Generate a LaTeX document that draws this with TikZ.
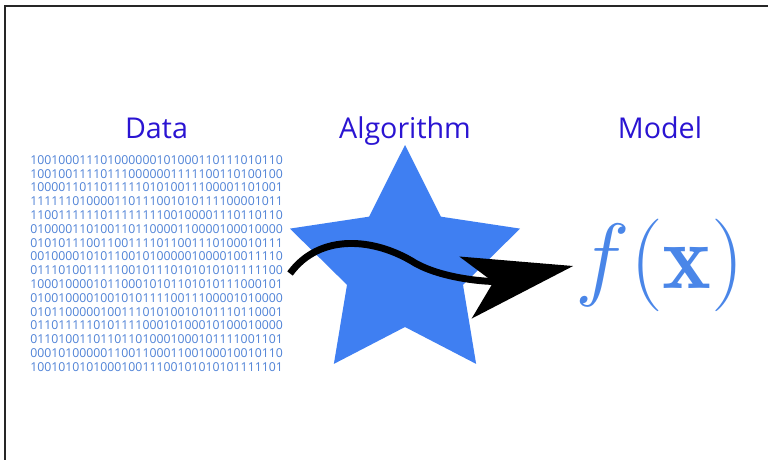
\documentclass[tikz,border=0pt]{standalone}
\usepackage{graphicx}
\usepackage{fontspec}
\setsansfont{Open Sans}
\usetikzlibrary{arrows.meta, positioning, calc}
\definecolor{headblue}{HTML}{2A14D2}
\definecolor{bitblue}{HTML}{4F82D6}
\definecolor{starblue}{HTML}{3F7FF2}
\definecolor{fxblue}{HTML}{4A86E8}

\begin{document}
\begin{tikzpicture}[
    x=0.75pt, y=-0.75pt,
    head/.style={font=\sffamily\fontsize{21.5}{24}\selectfont, text=headblue, anchor=base, inner sep=0pt},
    bitblock/.style={font=\sffamily\fontsize{9.2}{10.35}\selectfont, text=bitblue, align=center, inner sep=0pt},
    flow/.style={line width=5.2pt, -{Stealth[length=82pt, width=47pt, inset=21pt]}}
]
    \useasboundingbox (0,0) rectangle (768,460);
    \draw[line width=1.5pt, black!85] (768,6) -- (5,6) -- (5,460);
    \coordinate (hdline) at (0,138);
    % data
    \node[bitblock] (bits) at (156.5,263.5) {
        100100011101000000101000110111010110\\
        100100111101110000001111100110100100\\
        100001101101111101010011100001101001\\
        111111010000110111001010111100001011\\
        110011111101111111100100001110110110\\
        010000110100110110000110000100010000\\
        010101110011001111011001110100010111\\
        001000010101100101000001000010011110\\
        011101001111100101110101010101111100\\
        100010000101100010101101010111000101\\
        010010000100101011110011100001010000\\
        010110000010011101010010101110110001\\
        011011111010111100010100010100010000\\
        011010011011011010001000101111001101\\
        000101000001100110001100100010010110\\
        100101010100010011100101010101111101
    };
    \node[head] (datahd) at (bits |- hdline) {Data};
    % algorithm
    \coordinate (algo) at (405,266);
    \fill[starblue] ($(algo)+(-90:121)$)
        \foreach \a in {-90,-18,...,198} {-- ($(algo)+(\a+36:61)$) -- ($(algo)+(\a+72:121)$)} -- cycle;
    \node[head] (algohd) at (algo |- hdline) {Algorithm};
    % model
    \node[text=fxblue, inner sep=0pt, font=\fontsize{20.74}{20.74}\selectfont] (fx) at (660,265) {\scalebox{3.35}{$f(\mathbf{x})$}};
    \node[head] (modelhd) at (fx |- hdline) {Model};
    % flow
    \coordinate (src) at ($(bits.east)+(7,10)$);
    \coordinate (bend) at ($(algo)+(10,-3)$);
    \draw[flow] (src) .. controls +(30,-41) and +(-40,-25) .. (bend)
        .. controls +(30,17) and +(-80,16) .. ($(fx.west)+(-2,1)$);
\end{tikzpicture}
\end{document}
